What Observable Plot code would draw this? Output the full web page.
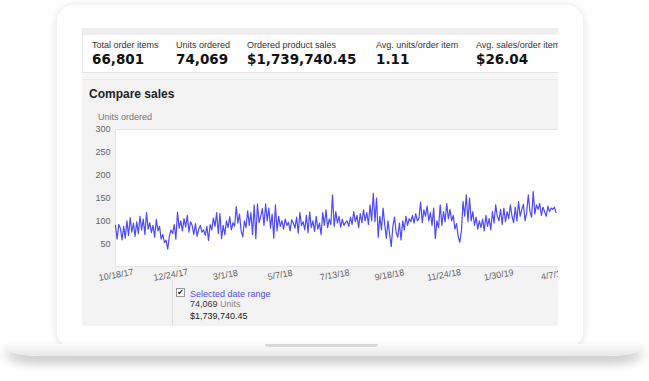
<!DOCTYPE html>
<html>
<head>
<meta charset="utf-8">
<script src="https://cdn.jsdelivr.net/npm/d3@7"></script>
<script src="https://cdn.jsdelivr.net/npm/@observablehq/plot@0.6"></script>
<style>
  html, body { margin:0; padding:0; }
  body { width:649px; height:381px; background:#fff; position:relative; overflow:hidden; font-family:"Liberation Sans", Arial, sans-serif; }
  .abs { position:absolute; }
  #laptop { left:57px; top:5px; width:526px; height:343px; background:#fff; border-radius:16px; box-shadow:0 1px 10px rgba(0,0,0,0.13); }
  #base { left:5px; top:344px; width:638px; height:12px; background:linear-gradient(#fcfcfc,#e7e7ea); border-radius:2px 2px 40px 40px / 2px 2px 12px 12px; box-shadow:0 7px 11px rgba(0,0,0,0.24); }
  #notch { left:265px; top:344px; width:113px; height:3px; background:#d9d9dc; border-radius:0 0 5px 5px; }
  #screen { left:82px; top:28px; width:476px; height:298px; overflow:hidden; background:#fff; }
  .lbl { font-size:9px; line-height:11px; color:#333; white-space:nowrap; }
  .num { font-family:"DejaVu Sans", Verdana, sans-serif; font-weight:bold; font-size:13.5px; line-height:16px; color:#111; white-space:nowrap; }
</style>
</head>
<body>
<div id="laptop" class="abs"></div>
<div id="base" class="abs"></div>
<div id="notch" class="abs"></div>
<div id="screen" class="abs">
  <div class="abs" style="left:0;top:0;width:476px;height:7px;background:#eeeeee"></div>
  <div class="abs" style="left:0;top:7px;width:476px;height:38px;background:#fff;border-left:1px solid #e8e8e8;border-bottom:1px solid #e4e4e4;box-sizing:border-box"></div>
  <div class="abs" style="left:0;top:45px;width:476px;height:6px;background:#f6f6f6"></div>
  <div class="abs" style="left:0;top:51px;width:476px;height:247px;background:#f3f3f3;border-top:1px solid #e8e8e8;box-sizing:border-box"></div>
  <div id="metrics"></div>
  <div class="abs" style="left:7px;top:59px;font-size:12px;line-height:14px;font-weight:bold;color:#222">Compare sales</div>
  <div class="abs" style="left:16px;top:83.5px;font-size:9px;line-height:11px;color:#777">Units ordered</div>
  <div id="chart" class="abs" style="left:0;top:72px"></div>
  <div class="abs" style="left:90px;top:251px;width:1px;height:47px;background:#dddddd"></div>
  <div class="abs" style="left:94px;top:260px;width:7px;height:7px;border:1px solid #999;background:#fff;font-size:8px;line-height:7px;text-align:center;color:#222;font-family:'DejaVu Sans',sans-serif">✔</div>
  <div class="abs" style="left:108px;top:260.5px;font-size:9px;line-height:11px;color:#5050ff">Selected date range</div>
  <div class="abs" style="left:108px;top:270.5px;font-size:9px;line-height:11px;color:#333">74,069 <span style="color:#888">Units</span></div>
  <div class="abs" style="left:108px;top:282.5px;font-size:9px;line-height:11px;color:#222">$1,739,740.45</div>
</div>
<script>
// KPI tiles
const kpiLabels = ["Total order items", "Units ordered", "Ordered product sales", "Avg. units/order item", "Avg. sales/order item"];
const kpiValues = ["66,801", "74,069", "$1,739,740.45", "1.11", "$26.04"];
const kpiX = [10, 94, 165, 294, 394];

// Units ordered, every second day starting 10/18/17
const units = [
  90, 60, 92, 84, 58, 88, 62,
  100, 68, 107, 75, 95, 66,
  98, 72, 110, 80, 104, 70,
  118, 82, 96, 74, 90, 64,
  103, 78, 88, 60, 70, 52,
  58, 38, 66, 80, 72, 92,
  60, 119, 84, 100, 78, 105,
  86, 112, 75, 98, 90, 70,
  94, 66, 82, 90, 75, 80,
  68, 88, 57, 92, 80, 106,
  88, 118, 72, 116, 61, 90,
  70, 100, 85, 109, 80, 96,
  88, 131, 95, 115, 78, 65,
  100, 85, 122, 90, 118, 70,
  135, 61, 137, 96, 110, 127,
  90, 137, 100, 128, 84, 115,
  62, 135, 78, 110, 88, 100,
  82, 104, 90, 97, 78, 102,
  95, 84, 108, 73, 118, 90,
  98, 80, 112, 74, 119, 85,
  100, 77, 110, 82, 95, 70,
  118, 90, 124, 85, 104, 92,
  157, 88, 120, 95, 110, 86,
  104, 90, 96, 100, 88, 108,
  92, 120, 98, 112, 85, 116,
  96, 124, 100, 118, 92, 135,
  100, 160, 98, 150, 64, 110,
  80, 128, 92, 62, 100, 70,
  44, 88, 108, 75, 64, 95,
  58, 100, 80, 110, 90, 105,
  98, 112, 95, 116, 100, 106,
  141, 96, 124, 110, 132, 100,
  118, 90, 128, 61, 100, 85,
  135, 90, 120, 98, 138, 104,
  125, 100, 112, 82, 94, 66,
  53, 78, 142, 110, 157, 98,
  150, 100, 120, 90, 108, 82,
  100, 85, 104, 78, 112, 88,
  105, 80, 120, 95, 135, 110,
  100, 125, 92, 128, 98, 120,
  105, 135, 110, 96, 130, 100,
  142, 110, 125, 136, 100, 118,
  157, 120, 108, 164, 115, 135,
  125, 138, 112, 130, 120, 110,
  132, 120, 128, 125, 130, 118
];
const xTickLabels = ["10/18/17", "12/24/17", "3/1/18", "5/7/18", "7/13/18", "9/18/18", "11/24/18", "1/30/19", "4/7/19"];
const yTicks = [50, 100, 150, 200, 250, 300];

const parseMDY = s => { const [m, d, y] = s.split("/").map(Number); return new Date(Date.UTC(2000 + y, m - 1, d)); };
const start = parseMDY(xTickLabels[0]);
const data = units.map((u, i) => ({date: new Date(start.getTime() + i * 2 * 864e5), units: u}));
const tickDates = xTickLabels.map(parseMDY);
const labelOf = new Map(tickDates.map((d, i) => [+d, xTickLabels[i]]));

const m = document.getElementById("metrics");
kpiLabels.forEach((l, i) => {
  const a = document.createElement("div");
  a.className = "abs lbl"; a.style.left = kpiX[i] + "px"; a.style.top = "11.5px"; a.textContent = l; m.appendChild(a);
  const b = document.createElement("div");
  b.className = "abs num"; b.style.left = kpiX[i] + "px"; b.style.top = "23px"; b.textContent = kpiValues[i]; m.appendChild(b);
});

const chart = Plot.plot({
  width: 476, height: 188,
  marginLeft: 33, marginRight: 0, marginTop: 29, marginBottom: 22,
  style: {fontFamily: "'Liberation Sans', Arial, sans-serif", fontSize: "9px", color: "#666", background: "transparent", overflow: "visible"},
  x: {type: "utc", domain: [start, new Date(Date.UTC(2019, 3, 14))]},
  y: {domain: [0, 300]},
  marks: [
    Plot.frame({fill: "#fff", stroke: "#e4e4e4"}),
    Plot.axisY({ticks: yTicks, tickSize: 0, tickPadding: 5, label: null, fill: "#666"}),
    Plot.axisX({ticks: tickDates, tickFormat: d => labelOf.get(+d), tickSize: 0, tickPadding: 5, tickRotate: -10, textAnchor: "middle", lineAnchor: "top", label: null, fill: "#666"}),
    Plot.line(data, {x: "date", y: "units", stroke: "#4a4aff", strokeWidth: 1.2})
  ]
});
document.getElementById("chart").appendChild(chart);
</script>
</body>
</html>
